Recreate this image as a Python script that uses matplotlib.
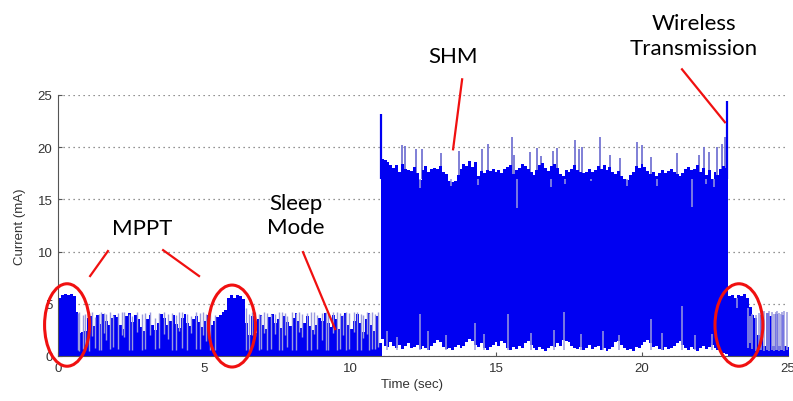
import matplotlib
matplotlib.use('Agg')
import matplotlib.pyplot as plt
from matplotlib.patches import Ellipse
import numpy as np

# Current trace. The trace is very dense, so it is kept
# as the top/bottom edge of the blue band every 0.1 s plus the lone lines.

# MPPT + sleep section, top edge every 0.1 s from 0.0 s
sleep_start = 0.0
sleep_top = [5.6, 5.8, 5.9, 5.8, 5.9, 5.7, 4.2, 2.2, 2.3, 2.4,
             3.6, 3.8, 2.9, 3.9, 3.1, 4.0, 3.4, 3.0, 3.6, 3.9,
             3.7, 3.0, 2.6, 3.8, 4.1, 3.3, 3.9, 3.5, 2.8, 2.4,
             3.5, 3.9, 3.0, 2.5, 3.2, 4.0, 3.6, 3.0, 3.4, 3.9,
             3.1, 2.7, 3.6, 4.0, 3.2, 2.9, 3.5, 3.8, 3.3, 2.8,
             3.4, 3.9, 3.0, 3.4, 3.7, 3.9, 4.2, 4.4, 5.6, 5.8,
             5.6, 5.8, 5.7, 5.5, 3.2, 2.0, 3.8, 2.2, 3.5, 3.9,
             3.0, 2.6, 3.7, 4.0, 3.2, 3.5, 2.7, 3.8, 3.3, 2.9,
             3.6, 4.1, 3.4, 2.7, 3.2, 3.8, 2.9, 2.5, 3.0, 3.6,
             3.4, 4.1, 3.2, 2.8, 3.9, 3.5, 2.6, 3.8, 4.1, 3.0,
             2.6, 3.4, 4.0, 3.2, 2.3, 3.5, 4.1, 3.0, 2.4, 3.8, 1.2]
# light switching lines in that section
sleep_line_t = [0.68, 0.72, 0.86, 0.93, 1.05, 1.18, 1.27, 1.39, 1.46, 1.58,
                1.66, 1.79, 1.88, 2.07, 2.18, 2.27, 2.43, 2.55, 2.71, 2.86,
                2.98, 3.15, 3.33, 3.46, 3.62, 3.75, 3.91, 4.05, 4.16, 4.26,
                4.41, 4.55, 4.72, 4.86, 4.97, 5.07, 5.22, 5.36, 6.43, 6.55,
                6.63, 6.74, 6.87, 6.96, 7.06, 7.15, 7.31, 7.44, 7.56, 7.66,
                7.77, 7.85, 8.03, 8.14, 8.27, 8.36, 8.52, 8.66, 8.77, 8.86,
                9.05, 9.17, 9.26, 9.41, 9.55, 9.66, 9.76, 9.87, 9.95, 10.13,
                10.25, 10.37, 10.46, 10.58, 10.66, 10.77, 10.86, 10.95]
sleep_line_lo = [0.6, 0.5, 0.7, 0.6, 0.5, 1.9, 0.8, 0.6, 0.6, 2.2,
                 1.5, 0.7, 0.9, 0.7, 2.0, 1.8, 0.6, 0.6, 2.3, 0.6,
                 0.7, 2.0, 0.7, 0.8, 2.1, 1.6, 0.6, 0.6, 2.4, 0.8,
                 0.6, 2.2, 0.7, 0.7, 2.0, 1.4, 0.6, 0.6, 0.6, 0.5,
                 2.0, 1.9, 0.6, 0.7, 2.2, 0.6, 0.7, 2.1, 0.6, 0.6,
                 2.0, 0.9, 0.6, 0.6, 2.3, 1.8, 0.6, 0.6, 2.1, 0.7,
                 1.5, 0.6, 0.6, 2.2, 0.6, 0.7, 2.0, 0.6, 0.7, 2.3,
                 0.6, 0.6, 1.7, 2.1, 0.6, 0.7, 0.7, 0.9]
sleep_line_hi = [4.1, 4.2, 3.9, 4.0, 4.1, 4.2, 3.7, 4.0, 4.2, 4.1,
                 4.0, 4.2, 3.9, 4.1, 4.2, 4.2, 4.0, 3.8, 4.2, 4.0,
                 4.1, 4.2, 3.6, 4.1, 4.2, 4.0, 4.1, 3.9, 4.2, 4.2,
                 4.0, 3.8, 4.2, 4.1, 4.2, 4.0, 4.1, 3.9, 4.6, 4.0,
                 4.2, 4.2, 4.0, 3.9, 4.2, 4.1, 4.0, 4.0, 4.2, 4.2,
                 4.1, 3.8, 4.2, 4.1, 4.2, 4.0, 4.1, 4.2, 4.2, 3.9,
                 4.1, 4.2, 4.0, 4.2, 4.2, 4.1, 3.9, 4.2, 4.1, 4.2,
                 4.2, 4.0, 3.9, 4.2, 4.1, 4.2, 4.0, 4.2]

# SHM section, top and bottom edge every 0.1 s from 11.05 s
shm_start = 11.05
shm_top = [18.9, 18.8, 18.6, 18.3, 18.0, 18.3, 17.6, 18.4, 17.9, 17.8,
           17.7, 18.1, 17.5, 16.9, 17.8, 18.2, 17.6, 17.9, 18.0, 17.9,
           18.2, 17.6, 17.4, 16.8, 16.7, 16.8, 17.3, 17.9, 18.4, 18.2,
           18.7, 18.1, 18.6, 17.2, 17.7, 17.5, 17.8, 17.7, 17.9, 17.6,
           17.8, 17.5, 17.9, 18.1, 18.3, 17.4, 17.8, 18.0, 18.4, 18.2,
           17.9, 17.6, 17.3, 17.8, 18.3, 18.5, 18.0, 17.7, 18.2, 18.4,
           18.0, 17.4, 17.2, 17.8, 17.6, 17.9, 18.3, 17.8, 17.6, 17.5,
           17.6, 17.9, 17.6, 17.8, 18.2, 17.9, 18.3, 17.8, 18.1, 17.6,
           17.4, 17.7, 17.2, 17.0, 16.9, 17.3, 17.6, 18.2, 18.0, 18.4,
           18.1, 17.7, 17.4, 17.6, 17.2, 17.5, 17.8, 17.5, 17.7, 17.9,
           17.6, 17.4, 17.2, 17.5, 17.9, 18.1, 17.8, 17.9, 18.3, 17.6,
           18.0, 17.3, 17.8, 17.0, 17.6, 17.3, 17.9, 18.2, 18.0]
shm_bottom = [1.6, 1.0, 0.9, 1.3, 1.0, 0.8, 1.1, 0.7, 1.0, 1.2,
              0.8, 0.9, 1.1, 0.7, 1.0, 0.8, 0.6, 1.0, 1.2, 1.5,
              1.3, 0.9, 0.7, 0.8, 0.6, 0.9, 1.1, 0.8, 1.0, 1.3,
              1.6, 1.4, 1.1, 0.9, 1.2, 0.8, 0.6, 0.9, 1.1, 1.3,
              1.0, 1.4, 1.2, 0.8, 0.6, 0.9, 0.7, 1.0, 0.8, 1.2,
              1.4, 1.1, 0.8, 0.6, 0.9, 0.7, 0.5, 0.8, 1.0, 0.9,
              1.2, 1.0, 1.5, 1.4, 1.3, 1.0, 0.8, 0.7, 0.9, 0.6,
              0.8, 1.1, 0.7, 0.9, 1.0, 0.6, 0.8, 0.5, 0.7, 0.9,
              1.3, 1.4, 1.1, 0.8, 0.6, 0.7, 0.5, 0.9, 0.8, 1.1,
              1.3, 1.5, 1.2, 0.9, 1.0, 0.7, 0.6, 0.9, 0.7, 0.8,
              1.0, 1.2, 1.4, 1.1, 0.8, 0.6, 0.9, 0.7, 0.5, 0.8,
              1.0, 0.7, 0.9, 1.1, 0.8, 0.6, 0.4, 0.3, 0.2]
# single samples above the band
shm_spike_t = [11.77, 11.90, 12.25, 12.47, 13.10, 13.73, 14.51, 14.73, 15.55, 15.62,
               16.15, 16.40, 16.55, 16.95, 17.10, 17.72, 17.85, 17.95, 18.56, 18.90,
               19.25, 19.82, 19.99, 20.30, 21.20, 21.95, 22.12, 22.30, 22.56, 22.75,
               22.85]
shm_spike_v = [20.2, 20.1, 19.8, 19.8, 19.4, 19.6, 19.8, 20.3, 21.0, 19.3,
               19.5, 19.9, 19.2, 19.6, 19.9, 20.7, 19.8, 20.0, 21.0, 19.3,
               19.0, 20.5, 20.2, 19.1, 19.4, 19.3, 20.0, 19.5, 20.0, 20.3,
               21.0]
# single samples dipping into the band from the top
shm_dip_t = [12.40, 13.45, 14.38, 15.71, 16.90, 17.35, 18.25, 19.50, 20.50, 21.70,
             22.20, 22.45]
shm_dip_v = [16.1, 16.3, 16.4, 14.2, 16.2, 16.5, 16.8, 16.3, 16.3, 14.3,
             16.5, 16.2]
# single samples rising from the bottom edge
shm_low_t = [11.26, 11.60, 12.40, 12.68, 13.30, 14.28, 14.60, 15.40, 16.20, 16.99,
             17.33, 17.90, 18.67, 19.20, 20.30, 20.70, 21.36, 21.80, 22.40]
shm_low_v = [2.4, 1.8, 4.0, 2.4, 2.0, 3.2, 2.1, 4.0, 2.2, 2.5,
             4.2, 2.1, 2.4, 2.0, 3.5, 2.2, 4.8, 2.0, 2.1]
# start of SHM and the wireless transmission burst
burst_t = [11.07, 22.92]
burst_v = [23.2, 24.4]

# after transmission, top edge every 0.1 s from 22.95 s
tail_start = 22.95
tail_top = [5.7, 5.8, 5.6, 5.8, 5.7, 5.9, 5.6, 4.7, 3.9, 3.6,
            2.0, 3.9, 1.0, 4.1, 3.8, 1.0, 4.0, 1.0, 3.9, 1.0, 0.9]
tail_line_t = [23.27, 23.62, 23.70, 23.78, 23.92, 24.02, 24.08, 24.18, 24.27, 24.36,
               24.45, 24.52, 24.58, 24.62, 24.70, 24.76, 24.80, 24.88, 24.96]
tail_line_lo = [4.6, 0.8, 1.2, 0.7, 0.5, 0.6, 0.6, 0.5, 0.6, 0.5,
                0.6, 0.5, 0.6, 0.6, 0.5, 0.6, 0.6, 0.5, 0.6]
tail_line_hi = [5.6, 4.6, 3.8, 4.0, 3.9, 4.1, 4.2, 4.3, 4.1, 4.3,
                4.2, 4.0, 4.2, 4.3, 4.1, 4.0, 4.2, 4.3, 4.2]

# ellipses round the MPPT parts: centre time, centre current, width, height
ring_t = [0.31, 5.96, 23.32]
ring_v = [2.97, 2.87, 2.97]
ring_w = [1.54, 1.61, 1.64]
ring_h = [7.9, 7.85, 7.9]

BLUE = '#0000f2'
LIGHT = '#9a9ade'
RED = '#f01010'
STEP = 0.1


def band(ax, start, top, bottom=0.0):
  t = start + STEP * np.arange(len(top) + 1)
  top = list(top) + [top[-1]]
  if not np.isscalar(bottom):
    bottom = list(bottom) + [bottom[-1]]
  ax.fill_between(t, bottom, top, step='post', color=BLUE, lw=0, zorder=2)


fig = plt.figure(figsize=(7.93, 4.02), dpi=100)
ax = fig.add_axes([58 / 793, 45 / 402, 730 / 793, 261 / 402])

# Blue trace
band(ax, sleep_start, sleep_top)
band(ax, shm_start, shm_top, shm_bottom)
band(ax, tail_start, tail_top)
ax.vlines(shm_spike_t, 17.0, shm_spike_v, color='#6a6ad0', lw=1.2, zorder=1.5)
ax.vlines(burst_t, 17.0, burst_v, color=BLUE, lw=1.6, zorder=1.5)
ax.vlines(sleep_line_t, sleep_line_lo, sleep_line_hi, color=LIGHT, lw=1.0, zorder=3)
ax.vlines(shm_dip_t, shm_dip_v, 17.0, color=LIGHT, lw=1.1, zorder=3)
ax.vlines(shm_low_t, 0.6, shm_low_v, color=LIGHT, lw=1.1, zorder=3)
ax.vlines(tail_line_t, tail_line_lo, tail_line_hi, color=LIGHT, lw=1.1, zorder=3)

# Axes formatting, MATLAB look
ax.set_xlim(0, 25)
ax.set_ylim(0, 25)
ax.set_xticks([0, 5, 10, 15, 20, 25])
ax.set_yticks([0, 5, 10, 15, 20, 25])
ax.yaxis.grid(True, linestyle=(0, (1, 3)), color='#707070', lw=0.9)
ax.set_axisbelow(True)
ax.spines['top'].set_visible(False)
ax.spines['right'].set_visible(False)
for side in ['left', 'bottom']:
  ax.spines[side].set_color('#555555')
  ax.spines[side].set_linewidth(0.8)
ax.tick_params(direction='in', length=3, color='#555555', labelcolor='#333333',
               labelsize=9.5, pad=4)
for label in ax.get_xticklabels() + ax.get_yticklabels():
  label.set_fontfamily('Liberation Sans')
ax.set_xlabel('Time (sec)', fontsize=9.5, color='#333333', family='Liberation Sans')
ax.set_ylabel('Current (mA)', fontsize=9.5, color='#333333', family='Liberation Sans')
ax.xaxis.set_label_coords(0.485, -0.085)
ax.yaxis.set_label_coords(-0.044, 0.5)

# Red circles and pointers
for t, v, w, h in zip(ring_t, ring_v, ring_w, ring_h):
  ax.add_patch(Ellipse((t, v), w, h, fill=False, edgecolor=RED, lw=2.2,
                       zorder=5, clip_on=False))

pointers = [((1.71, 10.05), (1.10, 7.66)),
            ((3.60, 10.14), (4.83, 7.66)),
            ((8.39, 9.95), (9.49, 2.58)),
            ((13.84, 26.5), (13.53, 19.8)),
            ((21.37, 27.46), (22.84, 22.39))]
for (x0, y0), (x1, y1) in pointers:
  ax.plot([x0, x1], [y0, y1], color=RED, lw=1.6, zorder=5, clip_on=False)

font = dict(family='Lato', fontsize=16, color='black', ha='center',
            va='center', multialignment='center', zorder=6)
ax.text(2.88, 12.3, 'MPPT', **font)
ax.text(8.15, 13.5, 'Sleep\nMode', linespacing=1.3, **font)
ax.text(13.53, 28.7, 'SHM', clip_on=False, **font)
ax.text(21.78, 30.7, 'Wireless\nTransmission', linespacing=1.3, clip_on=False, **font)

plt.savefig('out.png', dpi=100)
plt.close()
